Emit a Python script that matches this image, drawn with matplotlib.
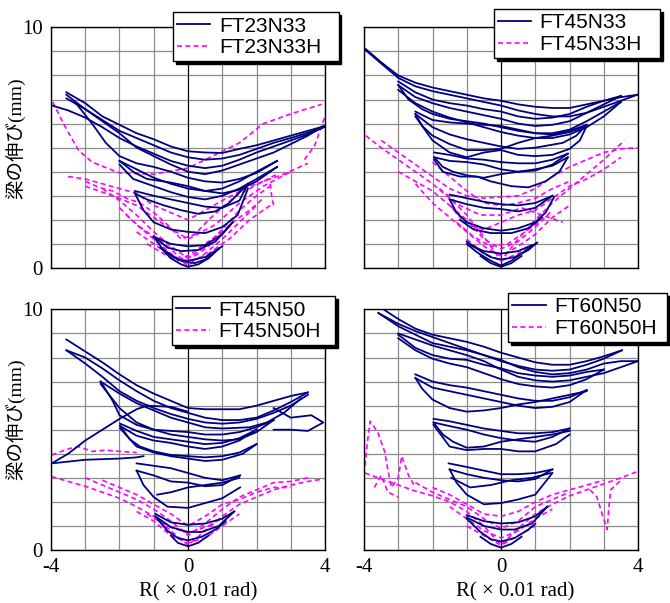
import matplotlib
matplotlib.use('Agg')
from matplotlib import pyplot as plt

# specimen names (legend)
names = [('FT23N33', 'FT23N33H'), ('FT45N33', 'FT45N33H'),
         ('FT45N50', 'FT45N50H'), ('FT60N50', 'FT60N50H')]

# ---- beam elongation (mm) vs R (x0.01 rad) ----
# FT23N33 (solid)
tl_navy = [
    [(-3.55, 7.3), (-3.0, 6.85), (-2.5, 6.3), (-2.0, 5.95), (-1.5, 5.6), (-1.0, 5.35), (-0.5, 5.05), (0.0, 4.85),
     (0.5, 4.8), (1.0, 4.78), (1.5, 4.95), (2.0, 5.1), (2.5, 5.3), (3.0, 5.5), (3.5, 5.7), (4.0, 5.9)],
    [(-3.55, 7.05), (-3.0, 6.6), (-2.5, 6.15), (-2.0, 5.7), (-1.5, 5.4), (-1.0, 5.1), (-0.5, 4.8), (0.0, 4.6),
     (0.5, 4.5), (1.0, 4.55), (1.5, 4.7), (2.0, 4.95), (2.5, 5.2), (3.0, 5.4), (3.5, 5.62), (3.95, 5.85)],
    [(-3.97, 6.75), (-3.5, 6.55), (-3.0, 6.25), (-2.5, 5.85), (-2.0, 5.4), (-1.5, 5.05), (-1.0, 4.75), (-0.5, 4.45),
     (0.0, 4.25), (0.5, 4.15), (1.0, 4.25), (1.5, 4.5), (2.0, 4.8), (2.5, 5.05), (3.0, 5.3), (3.5, 5.55), (3.97, 5.85)],
    [(3.95, 5.9), (3.5, 5.5), (3.0, 5.15), (2.5, 4.8), (2.0, 4.55), (1.5, 4.3), (1.0, 4.05), (0.5, 3.9), (0.0, 4.0),
     (-0.5, 4.3), (-1.0, 4.65), (-1.5, 5.0), (-2.0, 5.6), (-2.5, 6.1), (-3.0, 6.6), (-3.55, 7.2)],
    [(-3.3, 6.9), (-2.8, 6.0), (-2.4, 5.2), (-2.0, 4.65), (-1.5, 4.35), (-1.0, 4.2), (-0.5, 4.0), (0.0, 3.75),
     (0.5, 3.6), (1.0, 3.55), (1.5, 3.7), (2.0, 3.95), (2.6, 4.45)],
    [(2.6, 4.45), (2.0, 4.0), (1.5, 3.6), (1.0, 3.3), (0.5, 3.2), (0.0, 3.3), (-0.5, 3.5), (-1.0, 3.75),
     (-1.5, 4.1), (-2.0, 4.45)],
    [(-2.0, 4.45), (-1.6, 4.0), (-1.2, 3.7), (-0.5, 3.55), (0.0, 3.4), (0.5, 3.2), (1.0, 3.1), (1.5, 3.25),
     (2.0, 3.6), (2.6, 4.2)],
    [(2.6, 4.2), (2.0, 3.7), (1.5, 3.3), (1.0, 3.0), (0.5, 2.85), (0.0, 2.95), (-0.5, 3.15), (-1.0, 3.4),
     (-1.6, 3.7), (-2.0, 4.3)],
    [(-1.55, 3.2), (-1.0, 3.0), (-0.5, 2.85), (0.0, 2.7), (0.5, 2.55), (1.0, 2.5), (1.5, 2.8), (1.75, 3.5)],
    [(1.75, 3.5), (1.2, 2.7), (0.8, 2.35), (0.3, 2.25), (-0.2, 2.4), (-0.7, 2.6), (-1.2, 2.85), (-1.55, 3.1)],
    [(-1.55, 3.1), (-1.3, 2.4), (-1.0, 1.9), (-0.5, 1.6), (0.0, 1.5), (0.5, 1.45), (1.0, 1.7), (1.45, 2.2), (1.75, 3.3)],
    [(-1.0, 1.3), (-0.5, 1.0), (0.0, 0.9), (0.5, 0.95), (1.0, 1.4), (1.3, 1.9)],
    [(1.3, 1.9), (0.8, 1.1), (0.3, 0.75), (-0.2, 0.7), (-0.6, 0.85), (-1.0, 1.3)],
    [(-1.0, 1.3), (-0.7, 0.7), (-0.3, 0.35), (0.0, 0.3), (0.5, 0.45), (1.0, 0.9)],
    [(-0.8, 0.85), (-0.5, 0.4), (-0.2, 0.15), (0.0, 0.05), (0.3, 0.15), (0.6, 0.4), (0.9, 0.8)],
    [(0.9, 0.8), (0.5, 0.35), (0.2, 0.2), (-0.2, 0.3), (-0.5, 0.55), (-0.8, 0.85)],
]
# FT23N33H (dashed)
tl_pink = [
    [(-3.95, 6.9), (-3.6, 5.9), (-3.2, 4.9), (-2.8, 4.4), (-2.0, 3.95), (-1.0, 3.9), (0.0, 4.15), (1.0, 4.85),
     (1.5, 5.2), (2.2, 6.0), (3.1, 6.45), (3.9, 6.8)],
    [(-3.5, 3.8), (-3.0, 3.7), (-2.5, 3.5), (-2.0, 3.3), (-1.5, 3.1), (-1.0, 2.6), (-0.5, 2.3), (0.0, 2.0),
     (0.5, 2.4), (1.0, 2.8), (1.8, 3.4), (2.8, 3.9), (3.5, 4.35)],
    [(-2.5, 3.3), (-2.0, 2.8), (-1.5, 2.2), (-1.0, 1.5), (-0.5, 0.9), (0.0, 0.4), (0.5, 0.9), (1.0, 1.6),
     (1.5, 2.4), (2.0, 3.0), (2.5, 3.5)],
    [(-2.0, 2.5), (-1.5, 1.8), (-1.0, 1.2), (-0.5, 0.6), (0.0, 0.1), (0.5, 0.6), (1.0, 1.2), (1.5, 1.9), (2.0, 2.6)],
    [(-1.2, 1.0), (-0.6, 0.5), (0.0, 0.2), (0.6, 0.6), (1.2, 1.2), (1.8, 2.0), (2.4, 2.6)],
    [(-3.0, 3.4), (-2.2, 3.0), (-1.5, 2.6), (-0.8, 1.9), (0.0, 1.2), (0.8, 1.8), (1.5, 2.7), (2.2, 3.4), (3.0, 4.0)],
    [(-3.0, 3.6), (-2.6, 3.35), (-2.2, 3.2), (-1.8, 2.9), (-1.4, 2.7), (-1.0, 2.3), (-0.6, 1.8), (-0.2, 1.2),
     (0.2, 1.4), (0.6, 2.0), (1.0, 2.5), (1.4, 3.0), (1.8, 3.3), (2.2, 3.6), (2.6, 3.9)],
    [(-1.8, 2.2), (-1.4, 1.7), (-1.0, 1.3), (-0.6, 0.9), (-0.2, 0.4), (0.2, 0.5), (0.6, 0.9), (1.0, 1.5),
     (1.4, 2.0), (1.8, 2.4), (2.2, 2.9)],
    [(2.4, 3.5), (2.45, 2.9), (2.5, 2.6)],
    [(3.4, 4.5), (3.7, 5.1), (4.0, 6.3)],
    [(-1.5, 1.5), (-1.1, 1.1), (-0.7, 0.7), (-0.3, 0.3), (0.1, 0.6), (0.5, 1.0), (0.9, 1.4), (1.3, 1.8)],
]

# FT45N33 (solid)
tr_navy = [
    [(-3.95, 9.1), (-3.5, 8.55), (-3.0, 8.0), (-2.5, 7.7), (-2.0, 7.5), (-1.5, 7.35), (-1.0, 7.2), (-0.5, 7.05),
     (0.0, 6.95), (0.5, 6.8), (1.0, 6.7), (1.5, 6.65), (2.0, 6.65), (2.5, 6.8), (3.0, 6.95), (3.5, 7.1), (3.98, 7.2)],
    [(3.98, 7.2), (3.5, 6.95), (3.0, 6.7), (2.5, 6.45), (2.0, 6.3), (1.5, 6.3), (1.0, 6.4), (0.5, 6.55), (0.0, 6.75),
     (-0.5, 6.9), (-1.0, 7.05), (-1.5, 7.2), (-2.0, 7.35), (-2.5, 7.55), (-3.0, 7.9), (-3.5, 8.5), (-3.95, 9.05)],
    [(-3.0, 7.75), (-2.5, 7.3), (-2.0, 7.0), (-1.5, 6.85), (-1.0, 6.75), (-0.5, 6.6), (0.0, 6.5), (0.5, 6.3),
     (1.0, 6.2), (1.5, 6.25), (2.0, 6.4), (2.5, 6.7), (3.0, 6.95), (3.5, 7.15)],
    [(3.5, 7.15), (3.0, 6.8), (2.5, 6.45), (2.0, 6.1), (1.5, 5.95), (1.0, 5.9), (0.5, 6.0), (0.0, 6.2), (-0.5, 6.35),
     (-1.0, 6.5), (-1.5, 6.65), (-2.0, 6.85), (-2.5, 7.1), (-3.0, 7.6)],
    [(-3.0, 7.6), (-2.7, 7.0), (-2.3, 6.6), (-2.0, 6.4), (-1.5, 6.2), (-1.0, 6.1), (-0.5, 6.0), (0.0, 5.85),
     (0.5, 5.7), (1.0, 5.6), (1.5, 5.6), (2.0, 5.75), (2.5, 6.1), (3.0, 6.5), (3.5, 6.9)],
    [(3.5, 6.9), (3.0, 6.3), (2.5, 5.85), (2.0, 5.55), (1.5, 5.4), (1.0, 5.4), (0.5, 5.5), (0.0, 5.65), (-0.5, 5.85),
     (-1.0, 6.05), (-1.5, 6.25), (-2.0, 6.5), (-2.5, 6.85), (-3.0, 7.4)],
    [(-2.5, 6.5), (-2.0, 6.15), (-1.5, 6.05), (-1.0, 6.0), (-0.5, 5.95), (0.0, 5.9), (0.5, 5.75), (1.0, 5.6),
     (1.5, 5.55), (2.0, 5.7), (2.5, 5.95)],
    [(2.5, 5.95), (2.2, 5.5), (1.8, 5.2), (1.0, 5.0), (0.5, 4.95), (0.0, 5.05), (-0.5, 5.2), (-1.0, 5.35),
     (-1.5, 5.55), (-2.0, 5.85), (-2.5, 6.4)],
    [(-2.5, 6.4), (-2.3, 5.9), (-2.0, 5.5), (-1.5, 5.15), (-1.0, 4.9), (-0.5, 4.9), (0.0, 4.95), (0.5, 5.2),
     (1.0, 5.4), (1.5, 5.5), (2.0, 5.65), (2.5, 5.9)],
    [(2.5, 5.9), (2.3, 5.3), (2.0, 4.95), (1.5, 4.7), (1.0, 4.65), (0.5, 4.7), (0.0, 4.9), (-0.5, 4.8),
     (-1.0, 4.6), (-1.5, 4.8), (-2.0, 5.3), (-2.5, 6.3)],
    [(-1.95, 4.8), (-1.5, 4.7), (-1.0, 4.55), (-0.5, 4.5), (0.0, 4.4), (0.5, 4.35), (1.0, 4.35), (1.5, 4.5), (1.95, 4.75)],
    [(1.95, 4.75), (1.5, 4.3), (1.0, 4.05), (0.5, 4.0), (0.0, 4.1), (-0.5, 4.3), (-1.0, 4.4), (-1.5, 4.45), (-1.95, 4.6)],
    [(-1.95, 4.6), (-1.7, 4.2), (-1.4, 4.0), (-1.0, 3.85), (-0.5, 3.75), (0.0, 3.9), (0.5, 4.0), (1.0, 4.1),
     (1.5, 4.25), (1.95, 4.6)],
    [(1.95, 4.6), (1.7, 4.0), (1.3, 3.6), (0.8, 3.35), (0.3, 3.4), (-0.3, 3.6), (-0.7, 3.8), (-1.2, 3.8),
     (-1.7, 4.0), (-1.95, 4.5)],
    [(-1.5, 3.05), (-1.0, 2.9), (-0.5, 2.75), (0.0, 2.65), (0.5, 2.6), (1.0, 2.7), (1.5, 3.0)],
    [(1.5, 3.0), (1.0, 2.5), (0.5, 2.35), (0.0, 2.45), (-0.5, 2.5), (-1.0, 2.65), (-1.5, 2.85)],
    [(-1.5, 2.85), (-1.3, 2.3), (-1.0, 1.9), (-0.5, 1.65), (0.0, 1.55), (0.5, 1.65), (1.0, 1.9), (1.3, 2.3), (1.55, 2.95)],
    [(-1.2, 2.0), (-0.8, 1.6), (-0.3, 1.45), (0.3, 1.45), (0.8, 1.65), (1.2, 2.1)],
    [(-1.0, 1.1), (-0.6, 0.7), (-0.3, 0.45), (0.0, 0.35), (0.4, 0.45), (0.8, 0.75), (1.05, 1.05)],
    [(1.05, 1.05), (0.6, 0.6), (0.3, 0.3), (0.0, 0.1), (-0.3, 0.3), (-0.7, 0.65), (-1.0, 1.0)],
    [(-0.9, 0.95), (-0.5, 0.7), (0.0, 0.6), (0.5, 0.7), (0.9, 0.95)],
    [(-0.6, 0.5), (-0.3, 0.2), (0.0, 0.05), (0.3, 0.2), (0.6, 0.5)],
]
# FT45N33H (dashed)
tr_pink = [
    [(-3.95, 5.5), (-3.5, 5.0), (-3.0, 4.5), (-2.5, 4.0), (-2.0, 3.5), (-1.5, 2.9), (-1.0, 2.2), (-0.5, 1.3),
     (0.0, 0.3), (0.5, 1.2), (1.0, 2.0), (1.5, 2.7), (2.0, 3.3), (2.5, 3.9), (3.0, 4.5), (3.6, 5.3)],
    [(-3.5, 5.3), (-3.0, 4.8), (-2.5, 4.3), (-2.0, 3.8), (-1.5, 3.3), (-1.0, 3.0), (-0.5, 2.9), (0.0, 2.95),
     (0.5, 3.0), (1.0, 3.3), (1.5, 3.8), (2.0, 4.2), (2.5, 4.5), (3.0, 4.8), (3.5, 4.95), (3.98, 5.0)],
    [(-2.5, 3.5), (-2.0, 2.7), (-1.5, 2.1), (-1.0, 1.5), (-0.5, 0.9), (0.0, 0.5), (0.5, 0.9), (1.0, 1.4),
     (1.5, 2.1), (2.0, 2.6)],
    [(-1.5, 2.6), (-1.0, 2.0), (-0.5, 1.2), (0.0, 0.8), (0.5, 1.1), (1.0, 1.7), (1.5, 2.4)],
    [(-2.0, 4.4), (-1.5, 3.8), (-1.0, 3.2), (-0.5, 2.7), (0.0, 2.6), (0.5, 2.7), (1.0, 2.9), (1.5, 3.3), (2.0, 3.6)],
    [(-1.0, 1.2), (-0.5, 0.6), (0.0, 0.3), (0.5, 0.6), (1.0, 1.0)],
    [(-3.0, 4.0), (-2.5, 3.6), (-2.0, 3.2), (-1.5, 2.6), (-1.0, 1.8), (-0.5, 1.6), (0.0, 1.9), (0.5, 2.2),
     (1.0, 2.4), (1.5, 2.9), (2.0, 3.4), (2.5, 3.7), (3.0, 4.1), (3.5, 4.6)],
    [(-1.8, 3.3), (-1.2, 2.6), (-0.6, 2.2), (0.0, 2.2), (0.6, 2.5), (1.2, 2.2), (1.8, 1.9)],
    [(-1.3, 1.9), (-0.8, 1.3), (-0.3, 0.9), (0.2, 1.0), (0.7, 1.5), (1.2, 2.0)],
]

# FT45N50 (solid)
bl_navy = [
    [(-3.55, 8.75), (-3.0, 8.25), (-2.5, 7.8), (-2.0, 7.3), (-1.5, 6.85), (-1.0, 6.5), (-0.5, 6.2), (0.0, 5.9),
     (0.5, 5.85), (1.0, 5.85), (1.5, 5.85), (2.0, 6.0), (2.5, 6.2), (3.0, 6.4), (3.5, 6.55)],
    [(3.5, 6.55), (3.0, 6.15), (2.5, 5.8), (2.0, 5.5), (1.5, 5.4), (1.0, 5.4), (0.5, 5.5), (0.0, 5.7), (-0.5, 5.9),
     (-1.0, 6.2), (-1.5, 6.6), (-2.0, 7.05), (-2.5, 7.55), (-3.0, 8.0), (-3.55, 8.3)],
    [(-3.55, 8.3), (-3.0, 7.75), (-2.5, 7.2), (-2.0, 6.6), (-1.5, 6.2), (-1.0, 5.9), (-0.5, 5.65), (0.0, 5.45),
     (0.5, 5.3), (1.0, 5.25), (1.5, 5.3), (2.0, 5.45), (2.5, 5.7), (3.0, 6.0), (3.5, 6.45)],
    [(3.3, 6.3), (2.8, 5.7), (2.3, 5.3), (1.8, 5.1), (1.0, 5.05), (0.5, 5.1), (0.0, 5.3), (-0.5, 5.5), (-1.0, 5.8),
     (-1.5, 6.1), (-2.0, 6.5), (-2.55, 7.0)],
    [(-3.98, 3.6), (-3.5, 4.0), (-3.0, 4.55), (-2.5, 5.0), (-2.0, 5.45), (-1.5, 5.85), (-1.2, 6.0), (-0.5, 5.95),
     (0.0, 5.75)],
    [(-3.98, 3.6), (-3.0, 3.75), (-2.0, 3.8), (-1.5, 3.85), (-1.3, 3.9)],
    [(2.5, 5.9), (3.0, 5.5), (3.6, 5.6), (3.95, 5.3), (3.5, 4.95), (3.0, 5.0), (2.5, 5.0)],
    [(-2.55, 7.0), (-2.2, 6.2), (-2.0, 5.6), (-1.5, 5.2), (-1.0, 5.0), (-0.5, 4.95), (0.0, 4.9), (0.5, 4.8),
     (1.0, 4.8), (1.5, 4.9), (2.0, 5.1), (2.5, 5.4)],
    [(2.5, 5.4), (2.0, 4.9), (1.5, 4.6), (1.0, 4.55), (0.5, 4.6), (0.0, 4.7), (-0.5, 4.8), (-1.0, 5.0),
     (-1.5, 5.3), (-2.0, 5.9), (-2.55, 6.9)],
    [(-1.98, 5.25), (-1.5, 4.95), (-1.0, 4.7), (-0.5, 4.6), (0.0, 4.5), (0.5, 4.4), (1.0, 4.45), (1.5, 4.65), (2.0, 5.0)],
    [(2.0, 5.0), (1.5, 4.55), (1.0, 4.3), (0.5, 4.2), (0.0, 4.3), (-0.5, 4.45), (-1.0, 4.55), (-1.5, 4.75), (-1.98, 5.15)],
    [(-1.98, 5.15), (-1.7, 4.6), (-1.4, 4.3), (-1.0, 4.1), (-0.5, 3.95), (0.0, 3.9), (0.5, 3.85), (1.0, 3.9),
     (1.5, 4.05), (2.0, 4.4)],
    [(2.0, 4.4), (1.6, 4.0), (1.0, 3.75), (0.5, 3.7), (0.0, 3.8), (-0.5, 3.9), (-1.0, 4.05), (-1.5, 4.3), (-1.98, 5.05)],
    [(-1.5, 3.6), (-1.0, 3.5), (-0.5, 3.4), (0.0, 3.2), (0.5, 3.0), (1.0, 2.9), (1.52, 3.1)],
    [(1.52, 3.1), (1.0, 2.7), (0.5, 2.65), (0.0, 2.8), (-0.5, 2.85), (-1.0, 3.1), (-1.5, 3.3)],
    [(-1.5, 3.3), (-1.3, 2.7), (-1.0, 2.2), (-0.6, 1.8), (0.0, 1.75), (0.5, 1.95), (1.0, 2.15), (1.52, 2.6)],
    [(-0.9, 2.3), (-0.5, 2.4), (0.0, 2.6), (0.5, 2.7), (1.0, 2.8), (1.5, 3.0)],
    [(-0.95, 1.5), (-0.5, 1.15), (0.0, 1.05), (0.5, 1.1), (1.0, 1.3), (1.35, 1.6)],
    [(1.35, 1.6), (0.9, 1.0), (0.4, 0.75), (0.0, 0.75), (-0.5, 0.95), (-0.95, 1.4)],
    [(-0.9, 1.3), (-0.6, 0.8), (-0.3, 0.5), (0.0, 0.4), (0.4, 0.55), (0.8, 0.85), (1.1, 1.2)],
    [(-0.5, 0.6), (-0.3, 0.3), (0.0, 0.15), (0.3, 0.3), (0.6, 0.6)],
]
# FT45N50H (dashed)
bl_pink = [
    [(-3.98, 3.05), (-3.5, 2.85), (-3.0, 2.65), (-2.5, 2.4), (-2.0, 2.15), (-1.5, 1.8), (-1.0, 1.4), (-0.5, 0.8),
     (0.0, 0.2), (0.5, 0.8), (1.0, 1.4), (1.5, 1.9), (2.0, 2.2), (2.5, 2.5), (3.0, 2.7), (3.5, 2.85), (3.95, 2.95)],
    [(-3.98, 3.95), (-3.5, 4.2), (-3.2, 4.3), (-2.8, 4.1), (-2.4, 4.15), (-2.0, 4.1), (-1.5, 4.05)],
    [(-3.0, 3.0), (-2.5, 2.7), (-2.0, 2.4), (-1.5, 2.1), (-1.0, 1.7), (-0.5, 1.2), (0.0, 0.6), (0.5, 1.1),
     (1.0, 1.7), (1.5, 2.2), (2.0, 2.5), (2.5, 2.8), (3.0, 2.85), (3.5, 3.0)],
    [(-1.5, 1.6), (-1.0, 1.2), (-0.5, 0.6), (0.0, 0.3), (0.5, 0.5), (1.0, 1.0), (1.5, 1.5)],
    [(-1.2, 1.5), (-0.6, 1.0), (0.0, 0.7), (0.6, 1.0), (1.2, 1.5)],
    [(-2.5, 2.9), (-2.0, 2.6), (-1.5, 2.3), (-1.0, 1.9), (-0.5, 1.5), (0.0, 1.0), (0.5, 1.4), (1.0, 1.9),
     (1.5, 2.1), (2.0, 2.4), (2.5, 2.6), (3.0, 2.6)],
]

# FT60N50 (solid)
br_navy = [
    [(-3.43, 10.0), (-3.0, 9.6), (-2.5, 9.2), (-2.0, 8.95), (-1.5, 8.8), (-1.0, 8.65), (-0.5, 8.45), (0.0, 8.2),
     (0.5, 8.0), (1.0, 7.8), (1.5, 7.7), (2.0, 7.7), (2.5, 7.85), (3.0, 8.05), (3.53, 8.3)],
    [(3.53, 8.3), (3.0, 7.95), (2.5, 7.7), (2.0, 7.5), (1.5, 7.45), (1.0, 7.5), (0.5, 7.65), (0.0, 7.85), (-0.5, 8.1),
     (-1.0, 8.35), (-1.5, 8.6), (-2.0, 8.85), (-2.5, 9.1), (-3.0, 9.4), (-3.58, 9.85)],
    [(-3.58, 9.85), (-3.0, 9.3), (-2.5, 8.95), (-2.0, 8.6), (-1.5, 8.45), (-1.0, 8.3), (-0.5, 8.1), (0.0, 7.9),
     (0.5, 7.6), (1.0, 7.4), (1.5, 7.3), (2.0, 7.35), (2.5, 7.5), (3.0, 7.75), (3.5, 7.85), (4.0, 7.85)],
    [(4.0, 7.85), (3.5, 7.6), (3.0, 7.35), (2.5, 7.2), (2.0, 7.05), (1.5, 7.0), (1.0, 7.05), (0.5, 7.2), (0.0, 7.5),
     (-0.5, 7.85), (-1.0, 8.1), (-1.5, 8.3), (-2.0, 8.5), (-2.5, 8.75), (-3.0, 9.0)],
    [(-3.0, 8.95), (-2.5, 8.4), (-2.0, 8.1), (-1.5, 7.95), (-1.0, 7.9), (-0.5, 7.7), (0.0, 7.55), (0.5, 7.35),
     (1.0, 7.25), (1.5, 7.2), (2.0, 7.25), (2.5, 7.4), (3.0, 7.5)],
    [(3.0, 7.5), (2.5, 7.1), (2.0, 6.85), (1.5, 6.75), (1.0, 6.8), (0.5, 6.9), (0.0, 7.1), (-0.5, 7.35),
     (-1.0, 7.6), (-1.5, 7.75), (-2.0, 7.95), (-2.5, 8.3), (-3.0, 8.8)],
    [(-2.5, 7.3), (-2.0, 7.0), (-1.5, 6.85), (-1.0, 6.75), (-0.5, 6.6), (0.0, 6.45), (0.5, 6.3), (1.0, 6.2),
     (1.5, 6.2), (2.0, 6.35), (2.5, 6.65)],
    [(2.5, 6.65), (2.0, 6.15), (1.5, 5.95), (1.0, 5.9), (0.5, 6.0), (0.0, 6.15), (-0.5, 6.3), (-1.0, 6.45),
     (-1.5, 6.6), (-2.0, 6.75), (-2.5, 7.15)],
    [(-2.5, 7.15), (-2.3, 6.7), (-2.0, 6.25), (-1.5, 5.9), (-1.0, 5.75), (-0.5, 5.8), (0.0, 5.9), (0.5, 6.05),
     (1.0, 6.15), (1.5, 6.3), (2.0, 6.45), (2.5, 6.6)],
    [(-1.97, 5.45), (-1.5, 5.35), (-1.0, 5.2), (-0.5, 5.05), (0.0, 4.95), (0.5, 4.85), (1.0, 4.85), (1.5, 4.9), (2.0, 5.05)],
    [(2.0, 5.05), (1.5, 4.7), (1.0, 4.5), (0.5, 4.55), (0.0, 4.65), (-0.5, 4.8), (-1.0, 5.0), (-1.5, 5.15), (-1.97, 5.3)],
    [(-1.97, 5.3), (-1.7, 4.8), (-1.4, 4.5), (-1.0, 4.25), (-0.5, 4.3), (0.0, 4.5), (0.5, 4.6), (1.0, 4.7),
     (1.5, 4.8), (2.0, 4.95)],
    [(2.0, 4.8), (1.6, 4.4), (1.0, 4.1), (0.5, 4.1), (0.0, 4.2), (-0.5, 4.2), (-1.0, 4.15), (-1.5, 4.3), (-1.97, 5.2)],
    [(-1.53, 3.6), (-1.0, 3.45), (-0.5, 3.3), (0.0, 3.15), (0.5, 3.15), (1.0, 3.2), (1.5, 3.35)],
    [(1.5, 3.35), (1.0, 2.95), (0.5, 2.85), (0.0, 2.9), (-0.5, 3.0), (-1.0, 3.15), (-1.5, 3.35)],
    [(-1.5, 3.35), (-1.3, 2.8), (-1.0, 2.3), (-0.5, 1.9), (0.0, 1.95), (0.5, 2.1), (1.0, 2.3), (1.5, 3.2)],
    [(-1.45, 3.0), (-0.9, 2.6), (-0.3, 2.7), (0.3, 2.9), (0.9, 3.0), (1.45, 3.2)],
    [(-1.0, 1.45), (-0.5, 1.2), (0.0, 1.1), (0.5, 1.15), (1.0, 1.4), (1.35, 1.8)],
    [(1.35, 1.8), (0.9, 1.1), (0.4, 0.85), (0.0, 0.85), (-0.5, 1.0), (-1.0, 1.35)],
    [(-1.0, 1.3), (-0.6, 0.75), (-0.3, 0.45), (0.0, 0.35), (0.4, 0.5), (0.8, 0.85), (1.0, 1.1)],
    [(-0.6, 0.55), (-0.3, 0.25), (0.0, 0.1), (0.3, 0.25), (0.6, 0.55)],
]
# FT60N50H (dashed)
br_pink = [
    [(-3.97, 3.2), (-3.5, 2.95), (-3.0, 2.7), (-2.5, 2.45), (-2.0, 2.25), (-1.5, 2.0), (-1.0, 1.6), (-0.5, 1.0),
     (0.0, 0.2), (0.5, 0.9), (1.0, 1.5), (1.5, 1.9), (2.0, 2.25), (2.5, 2.5), (3.0, 2.75), (3.5, 3.0), (3.96, 3.25)],
    [(-3.97, 3.5), (-3.9, 4.5), (-3.82, 5.35), (-3.6, 4.9), (-3.4, 4.1), (-3.3, 3.3), (-3.2, 2.6), (-3.0, 3.0),
     (-2.9, 3.9), (-2.7, 3.1), (-2.5, 2.6)],
    [(2.6, 2.5), (2.8, 2.2), (2.95, 1.5), (3.1, 0.85), (3.15, 1.8), (3.2, 2.5), (3.5, 2.9)],
    [(-2.0, 2.6), (-1.5, 2.3), (-1.0, 1.9), (-0.5, 1.5), (0.0, 1.4), (0.5, 1.6), (1.0, 2.0), (1.5, 2.3),
     (2.0, 2.5), (2.5, 2.7), (3.0, 2.9)],
    [(-1.5, 1.8), (-1.0, 1.3), (-0.5, 0.8), (0.0, 0.5), (0.5, 0.8), (1.0, 1.3), (1.5, 1.7)],
    [(-1.0, 1.0), (-0.5, 0.6), (0.0, 0.2), (0.5, 0.6), (1.0, 1.0)],
    [(-2.5, 2.8), (-2.0, 2.4), (-1.5, 2.1), (-1.0, 1.8), (-0.5, 1.3), (0.0, 0.9), (0.5, 1.2), (1.0, 1.8),
     (1.5, 2.1), (2.0, 2.4)],
    [(-3.7, 2.6), (-3.5, 3.1), (-3.3, 2.4), (-3.0, 2.2)],
]

navy_data = [tl_navy, tr_navy, bl_navy, br_navy]
pink_data = [tl_pink, tr_pink, bl_pink, br_pink]

NAVY = '#000080'
PINK = '#ff00ff'
serif = ['Liberation Serif', 'Noto Sans CJK JP']

fig = plt.figure(figsize=(6.7, 6.03), dpi=100)

# axes boxes in figure fractions
boxes = [(0.0761, 0.5556), (0.5433, 0.5556), (0.0761, 0.0879), (0.5433, 0.0879)]
# legend boxes (x0, top, width) in axes fractions
leg_pos = [(0.445, 1.062, 0.605), (0.474, 1.075, 0.606), (0.442, 1.054, 0.595), (0.526, 1.067, 0.58)]

for i in range(4):
    ax = fig.add_axes([boxes[i][0], boxes[i][1], 0.409, 0.399])
    for curve in pink_data[i]:
        xs = [p[0] for p in curve]
        ys = [p[1] for p in curve]
        ax.plot(xs, ys, color=PINK, lw=1.2, dashes=(3, 2))
    for curve in navy_data[i]:
        xs = [p[0] for p in curve]
        ys = [p[1] for p in curve]
        ax.plot(xs, ys, color=NAVY, lw=1.3)

    ax.set_xlim(-4, 4)
    ax.set_ylim(0, 10)
    ax.set_xticks(range(-4, 5))
    ax.set_yticks(range(0, 11))
    ax.grid(True, color='#8c8c8c', lw=0.9)
    ax.set_axisbelow(True)
    ax.axvline(0, color='black', lw=0.8, zorder=1.5)
    for s in ax.spines.values():
        s.set_color('black')
        s.set_linewidth(1.0)
    ax.tick_params(length=0, labelsize=15, pad=6)

    if i % 2 == 0:
        ax.set_yticklabels(['0'] + [''] * 9 + ['10'])
    else:
        ax.set_yticklabels([''] * 11)
    if i >= 2:
        ax.set_xticklabels(['-4', '', '', '', '0', '', '', '', '4'])
    else:
        ax.set_xticklabels([''] * 9)
    for lab in ax.get_xticklabels() + ax.get_yticklabels():
        lab.set_family(serif)

    # dummy handles for legend
    h1, = ax.plot([], [], color=NAVY, lw=1.3)
    h2, = ax.plot([], [], color=PINK, lw=1.2, dashes=(3, 2))
    x0, top, w = leg_pos[i]
    leg = ax.legend([h1, h2], list(names[i]), loc='upper left',
                    bbox_to_anchor=(x0, top - 0.23, w, 0.23), mode='expand',
                    borderaxespad=0, fancybox=False, framealpha=1,
                    edgecolor='black', handlelength=1.6,
                    handletextpad=0.4, borderpad=0.2, labelspacing=0.12,
                    shadow={'color': 'black', 'alpha': 1},
                    prop={'family': 'Liberation Sans', 'size': 15})
    leg.get_frame().set_linewidth(1.0)
    leg.set_zorder(10)

# y labels
fig.text(0.023, 0.771, '梁の伸び(mm)', rotation=90, ha='center', va='center',
         fontsize=14, family=serif)
fig.text(0.023, 0.305, '梁の伸び(mm)', rotation=90, ha='center', va='center',
         fontsize=14, family=serif)
# x labels
fig.text(198 / 670, 0.018, 'R( × 0.01 rad)', ha='center', va='center', fontsize=15, family=serif)
fig.text(515 / 670, 0.018, 'R( × 0.01 rad)', ha='center', va='center', fontsize=15, family=serif)

plt.savefig('out.png', dpi=100)
